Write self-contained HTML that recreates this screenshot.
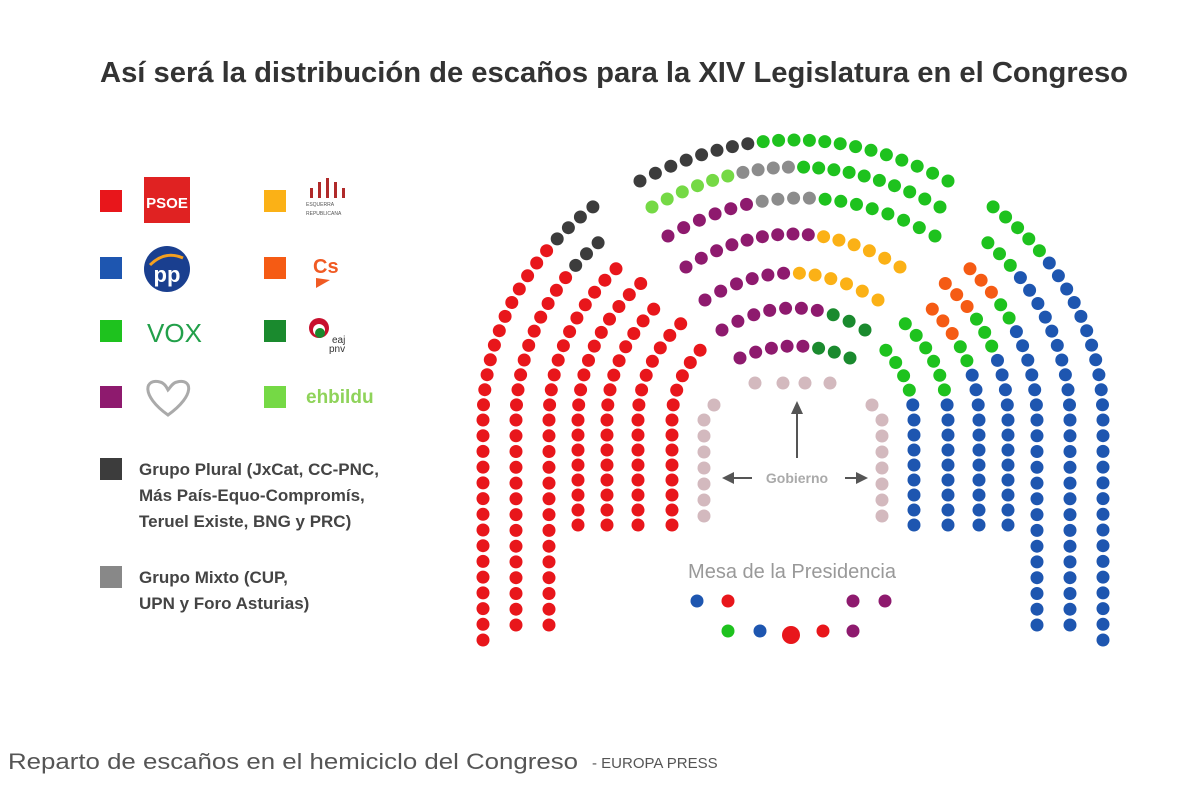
<!DOCTYPE html>
<html><head><meta charset="utf-8">
<style>
body{margin:0;background:#fff;width:1200px;height:798px;overflow:hidden;font-family:"Liberation Sans",sans-serif;}
svg{position:absolute;left:0;top:0}
</style></head><body>
<svg id="s" width="1200" height="798" xmlns="http://www.w3.org/2000/svg">
<text x="614" y="82" text-anchor="middle" font-family="Liberation Sans" font-weight="bold" font-size="28.5" fill="#333" textLength="1028" lengthAdjust="spacingAndGlyphs">Así será la distribución de escaños para la XIV Legislatura en el Congreso</text>
<rect x="100" y="190" width="22" height="22" fill="#e8161b"/>
<rect x="100" y="257" width="22" height="22" fill="#1e56b0"/>
<rect x="100" y="320" width="22" height="22" fill="#1ec21e"/>
<rect x="100" y="386" width="22" height="22" fill="#8e1a6e"/>
<rect x="264" y="190" width="22" height="22" fill="#fbb116"/>
<rect x="264" y="257" width="22" height="22" fill="#f55b14"/>
<rect x="264" y="320" width="22" height="22" fill="#1a8a2e"/>
<rect x="264" y="386" width="22" height="22" fill="#75d945"/>
<rect x="100" y="458" width="22" height="22" fill="#3c3c3c"/>
<rect x="100" y="566" width="22" height="22" fill="#888"/>
<rect x="144" y="177" width="46" height="46" fill="#e02222"/>
<text x="167" y="208" text-anchor="middle" font-weight="bold" font-size="15" fill="#fff">PSOE</text>
<circle cx="167" cy="269" r="23" fill="#1a3f8f"/>
<path d="M150 265 Q165 250 183 258" stroke="#f4a020" stroke-width="3" fill="none"/>
<text x="167" y="282" text-anchor="middle" font-weight="bold" font-size="22" fill="#fff">pp</text>
<text x="147" y="342" font-size="26" fill="#22a04a">VOX</text>
<path d="M168 415 C140 395 145 378 160 382 C165 383 167 388 168 390 C170 388 172 383 177 382 C192 378 196 395 168 415Z" fill="none" stroke="#aaa" stroke-width="3"/>
<g fill="#b02a2a"><rect x="310" y="188" width="3" height="10"/><rect x="318" y="182" width="3" height="16"/><rect x="326" y="178" width="3" height="20"/><rect x="334" y="182" width="3" height="16"/><rect x="342" y="188" width="3" height="10"/></g>
<text x="306" y="206" font-size="5" fill="#555">ESQUERRA</text><text x="306" y="215" font-size="5" fill="#555">REPUBLICANA</text>
<text x="313" y="273" font-size="20" font-weight="bold" fill="#f05a23">Cs</text>
<path d="M316 278 L330 280 L316 288Z" fill="#f05a23"/>
<circle cx="319" cy="328" r="10" fill="#c8102e"/><circle cx="319" cy="330" r="6" fill="#fff"/><circle cx="320" cy="333" r="5" fill="#1a8a2e"/>
<text x="332" y="343" font-size="10" fill="#333">eaj</text><text x="329" y="352" font-size="10" fill="#333">pnv</text>
<text x="306" y="403" font-size="19" font-weight="bold" fill="#8fd35a">ehbildu</text>
<g font-size="17" font-weight="bold" fill="#444">
<text x="139" y="475">Grupo Plural (JxCat, CC-PNC,</text>
<text x="139" y="501">Más País-Equo-Compromís,</text>
<text x="139" y="527">Teruel Existe, BNG y PRC)</text>
<text x="139" y="583">Grupo Mixto (CUP,</text>
<text x="139" y="609">UPN y Foro Asturias)</text>
</g>
<g stroke="#555" stroke-width="2" fill="#555">
<line x1="797" y1="458" x2="797" y2="412"/><path d="M791 414 L797 401 L803 414Z" stroke="none"/>
<line x1="732" y1="478" x2="752" y2="478"/><path d="M734 472 L722 478 L734 484Z" stroke="none"/>
<line x1="845" y1="478" x2="858" y2="478"/><path d="M856 472 L868 478 L856 484Z" stroke="none"/>
</g>
<text x="797" y="483" text-anchor="middle" font-size="14" font-weight="bold" fill="#aaa">Gobierno</text>
<text x="792" y="578" text-anchor="middle" font-size="20" fill="#999">Mesa de la Presidencia</text>
<circle cx="697" cy="601" r="6.5" fill="#1e56b0"/><circle cx="728" cy="601" r="6.5" fill="#e8161b"/>
<circle cx="853" cy="601" r="6.5" fill="#8e1a6e"/><circle cx="885" cy="601" r="6.5" fill="#8e1a6e"/>
<circle cx="728" cy="631" r="6.5" fill="#1ec21e"/><circle cx="760" cy="631" r="6.5" fill="#1e56b0"/>
<circle cx="791" cy="635" r="9" fill="#e8161b"/><circle cx="823" cy="631" r="6.5" fill="#e8161b"/><circle cx="853" cy="631" r="6.5" fill="#8e1a6e"/>
<text x="8" y="769" font-size="22" fill="#555" textLength="570" lengthAdjust="spacingAndGlyphs">Reparto de escaños en el hemiciclo del Congreso</text>
<text x="592" y="768" font-size="15" fill="#555">- EUROPA PRESS</text>
<g id="d"></g>
</svg>
<script>
var R='#e8161b',B='#1e56b0',G='#1ec21e',P='#8e1a6e',O='#fbb116',C='#f55b14',DG='#1a8a2e',LG='#75d945',K='#3c3c3c',M='#8c8c8c',PK='#d3b9be';
var out='';function dot(x,y,c){out+='<circle cx="'+x.toFixed(1)+'" cy="'+y.toFixed(1)+'" r="6.5" fill="'+c+'"/>';}
var cx=793,cy=420;
var rows=[[310,640,40],[277,625,43],[244,625,44],[215,525,43],[186,525,44],[155,525,44],[121,525,47]];
rows.forEach(function(r,i){
 var rad=r[0],ry=rad*0.9,a0=r[2]*Math.PI/180,step=16/(rad*0.95);
 var n=Math.floor((Math.PI/2-a0)/step);
 for(var k=0;k<=n;k++){var a=Math.PI-k*step;var x=cx+rad*Math.cos(a),y=cy-ry*Math.sin(a);
  var c=R; if(i==0&&k>n-4)c=K; if(i==1&&k>n-3)c=K; dot(x,y,c);}
 for(var k=0;k<=n;k++){var a=k*step;var deg=a*180/Math.PI;var x=cx+rad*Math.cos(a),y=cy-ry*Math.sin(a);
  var c=B;
  if(i<2){if(deg>35)c=G;}
  else if(i==2){if(deg>34)c=C;else if(deg>24)c=G;}
  else if(i==3){if(deg>33)c=C;else if(deg>20)c=G;}
  else if(i==4){if(deg>28)c=C;else if(deg>16)c=G;}
  else if(i==5){if(deg>10)c=G;}
  else if(i==6){if(deg>12)c=G;}
  dot(x,y,c);}
 var nv=Math.round((r[1]-cy)/16),sp=(r[1]-cy)/nv;
 for(var j=1;j<=nv;j++){var y=cy+j*sp;dot(cx-rad,y,R);dot(cx+rad,y,B);}
});
for(var y=420;y<=523;y+=16){dot(704,y,PK);dot(882,y,PK);}
dot(714,405,PK);dot(872,405,PK);
[755,783,805,830].forEach(function(x){dot(x,383,PK);});
var cr=[[140,640,948,41,function(x){return x<752?K:G}],
[167,652,940,40,function(x){return x<740?LG:(x<790?M:G)}],
[198,668,935,38,function(x){return x<762?P:(x<822?M:G)}],
[234,686,900,33,function(x){return x<812?P:O}],
[273,705,878,27,function(x){return x<797?P:O}],
[308,722,865,22,function(x){return x<826?P:DG}],
[346,740,850,12,function(x){return x<805?P:DG}]];
cr.forEach(function(r){var w=(r[2]-r[1])/2,m=(r[1]+r[2])/2;var n=Math.round((r[2]-r[1])/15.5);
 for(var k=0;k<=n;k++){var x=r[1]+k*(r[2]-r[1])/n;var y=r[0]+r[3]*Math.pow((x-m)/w,2);dot(x,y,r[4](x));}});
document.getElementById('d').innerHTML=out;
</script>
</body></html>
